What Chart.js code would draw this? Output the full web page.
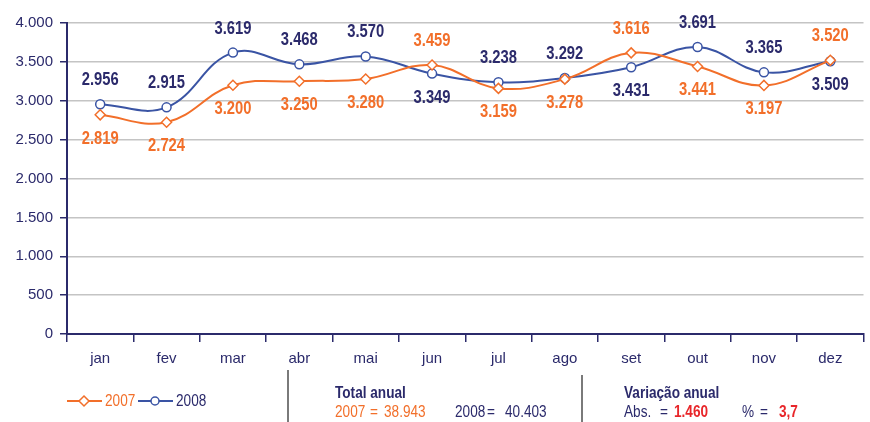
<!DOCTYPE html>
<html>
<head>
<meta charset="utf-8">
<script src="https://cdn.jsdelivr.net/npm/chart.js@4.4.0/dist/chart.umd.min.js"></script>
<style>
  body { margin: 0; background: #fff; font-family: "Liberation Sans", Arial, sans-serif; }
  #wrap { position: relative; width: 870px; height: 422px; }
  #chartBox { position: absolute; left: 0; top: 0; width: 870px; height: 376px; }
  .t { position: absolute; font-size: 16px; line-height: 16px; color: #2b2a6b; white-space: nowrap;
       transform: scaleX(0.85); transform-origin: left top; }
  .o { color: #f26f2a; }
  .r { color: #e8262a; font-weight: bold; }
  .b { font-weight: bold; }
  .vline { position: absolute; width: 2px; background: #7a7a7a; }
  .leg { position: absolute; }
</style>
</head>
<body>
<div id="wrap">
  <div id="chartBox"><canvas id="lineChart"></canvas></div>

  <canvas class="leg" id="legCanvas" width="160" height="20" style="left:60px;top:391px"></canvas>

  <div class="vline" style="left:287px;top:370px;height:52px"></div>
  <div class="t b" style="left:335px;top:385px">Total anual</div>
  <div class="t o" style="left:335px;top:404px">2007</div>
  <div class="t o" style="left:370px;top:404px">=</div>
  <div class="t o" style="left:384px;top:404px">38.943</div>
  <div class="t" style="left:455px;top:404px">2008</div>
  <div class="t" style="left:487px;top:404px">=</div>
  <div class="t" style="left:505px;top:404px">40.403</div>

  <div class="vline" style="left:581px;top:375px;height:47px"></div>
  <div class="t b" style="left:624px;top:385px">Variação anual</div>
  <div class="t" style="left:624px;top:404px">Abs.</div>
  <div class="t" style="left:660px;top:404px">=</div>
  <div class="t r" style="left:674px;top:404px">1.460</div>
  <div class="t" style="left:742px;top:404px">%</div>
  <div class="t" style="left:760px;top:404px">=</div>
  <div class="t r" style="left:779px;top:404px">3,7</div>
</div>
<script>
const months = ['jan', 'fev', 'mar', 'abr', 'mai', 'jun', 'jul', 'ago', 'set', 'out', 'nov', 'dez'];
const values2007 = [2819, 2724, 3200, 3250, 3280, 3459, 3159, 3278, 3616, 3441, 3197, 3520];
const values2008 = [2956, 2915, 3619, 3468, 3570, 3349, 3238, 3292, 3431, 3691, 3365, 3509];
const yTicks = [0, 500, 1000, 1500, 2000, 2500, 3000, 3500, 4000];

const orange = '#f26f2a';
const blue = '#3a54a4';
const navy = '#2b2a6b';
const fontName = '"Liberation Sans", Arial, sans-serif';

function fmt(v) {
    return v.toString().replace(/\B(?=(\d{3})+(?!\d))/g, '.');
}

// value labels: the higher series of each month goes above, the lower one below
const valueLabels = {
    id: 'valueLabels',
    afterDatasetsDraw(chart) {
        const ctx = chart.ctx;
        const colors = [orange, navy];
        const sets = [values2007, values2008];
        const sx = 0.82;
        ctx.save();
        ctx.font = 'bold 18px ' + fontName;
        ctx.textAlign = 'center';
        ctx.textBaseline = 'middle';
        sets.forEach((vals, d) => {
            const other = sets[1 - d];
            const meta = chart.getDatasetMeta(d);
            meta.data.forEach((pt, i) => {
                const above = vals[i] > other[i];
                ctx.fillStyle = colors[d];
                ctx.save();
                ctx.translate(pt.x, pt.y + (above ? -24 : 24));
                ctx.scale(sx, 1);
                ctx.fillText(fmt(vals[i]), 0, 0);
                ctx.restore();
            });
        });
        ctx.restore();
    }
};

const ctx = document.getElementById('lineChart').getContext('2d');
new Chart(ctx, {
    type: 'line',
    data: {
        labels: months,
        datasets: [{
            label: '2007',
            data: values2007,
            borderColor: orange,
            backgroundColor: '#ffffff',
            borderWidth: 2,
            tension: 0.4,
            pointStyle: 'rectRot',
            pointRadius: 5,
            pointBorderWidth: 1.5,
            pointBorderColor: orange,
            pointBackgroundColor: '#ffffff'
        }, {
            label: '2008',
            data: values2008,
            borderColor: blue,
            backgroundColor: '#ffffff',
            borderWidth: 2,
            tension: 0.4,
            pointStyle: 'circle',
            pointRadius: 4.5,
            pointBorderWidth: 1.5,
            pointBorderColor: blue,
            pointBackgroundColor: '#ffffff'
        }]
    },
    options: {
        responsive: true,
        maintainAspectRatio: false,
        animation: false,
        layout: { padding: { top: 23, right: 3, left: 0, bottom: 0 } },
        plugins: {
            legend: { display: false },
            tooltip: { enabled: false }
        },
        scales: {
            y: {
                min: 0,
                max: 4000,
                afterFit(s) { s.width = 67; },
                afterBuildTicks(s) { s.ticks = yTicks.map(v => ({ value: v })); },
                border: { color: navy, width: 2 },
                grid: { color: '#c4c4c4', lineWidth: 1.5, tickLength: 7, tickColor: navy },
                ticks: {
                    color: navy,
                    padding: 7,
                    font: { family: fontName, size: 15 },
                    callback: v => fmt(v)
                }
            },
            x: {
                offset: true,
                border: { color: navy, width: 2 },
                grid: { offset: true, drawOnChartArea: false, tickLength: 8, tickColor: navy, lineWidth: 1.5 },
                ticks: {
                    color: navy,
                    padding: 8,
                    font: { family: fontName, size: 15 }
                }
            }
        }
    },
    plugins: [valueLabels]
});

// small legend drawn like the original key
const lg = document.getElementById('legCanvas').getContext('2d');
function legendItem(x, color, textColor, shape, text) {
    lg.strokeStyle = color;
    lg.lineWidth = 2;
    lg.beginPath(); lg.moveTo(x, 10); lg.lineTo(x + 35, 10); lg.stroke();
    lg.fillStyle = '#fff';
    lg.lineWidth = 1.5;
    lg.beginPath();
    if (shape === 'diamond') {
        lg.moveTo(x + 17, 5); lg.lineTo(x + 22, 10); lg.lineTo(x + 17, 15); lg.lineTo(x + 12, 10); lg.closePath();
    } else {
        lg.arc(x + 17, 10, 4, 0, Math.PI * 2);
    }
    lg.fill(); lg.stroke();
    lg.save();
    lg.fillStyle = textColor;
    lg.font = '16px ' + fontName;
    lg.textBaseline = 'middle';
    lg.translate(x + 38, 11);
    lg.scale(0.85, 1);
    lg.fillText(text, 0, 0);
    lg.restore();
}
legendItem(7, orange, orange, 'diamond', '2007');
legendItem(78, blue, navy, 'circle', '2008');
</script>
</body>
</html>
